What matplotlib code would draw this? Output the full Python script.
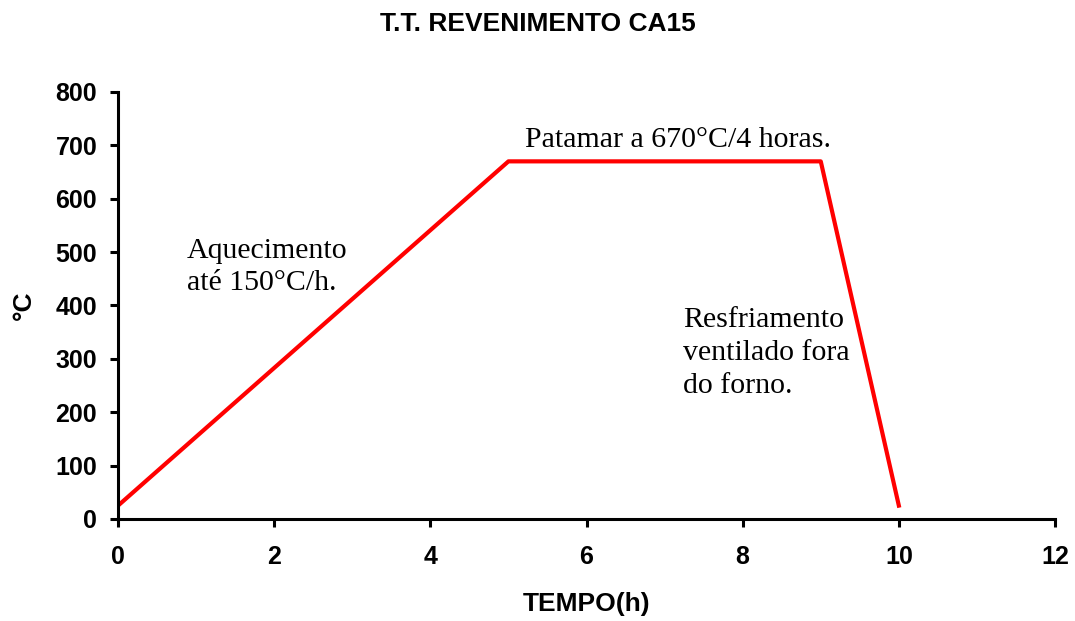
import matplotlib
matplotlib.use('Agg')
import matplotlib.pyplot as plt

# tempering profile: time (h) vs temperature (°C)
tempo = [0, 5, 9, 10]
temperatura = [25, 670, 670, 25]

x_ticks = [0, 2, 4, 6, 8, 10, 12]
y_ticks = [0, 100, 200, 300, 400, 500, 600, 700, 800]


def plot_revenimento():
    plt.rcParams['font.family'] = ['Liberation Sans', 'DejaVu Sans']

    fig = plt.figure(figsize=(10.75, 6.21), dpi=100)
    ax = fig.add_axes([0.1098, 0.1643, 0.8716, 0.6876])

    ax.plot(tempo, temperatura, color='#ff0000', linewidth=3)

    ax.set_xlim(0, 12)
    ax.set_ylim(0, 800)
    ax.set_xticks(x_ticks)
    ax.set_yticks(y_ticks)

    for side in ['top', 'right']:
        ax.spines[side].set_visible(False)
    for side in ['left', 'bottom']:
        ax.spines[side].set_linewidth(2.2)
    ax.tick_params(direction='out', length=6, width=2.2, labelsize=18)
    for lab in ax.get_xticklabels() + ax.get_yticklabels():
        lab.set_fontweight('bold')
    ax.tick_params(axis='x', pad=13)
    ax.tick_params(axis='y', pad=9)

    fig.text(0.50, 0.962, 'T.T. REVENIMENTO CA15', ha='center', va='center',
             fontsize=19, fontweight='bold')
    ax.set_xlabel('TEMPO(h)', fontsize=19, fontweight='bold', labelpad=16)
    ax.set_ylabel('°C', fontsize=19, fontweight='bold', labelpad=14)

    serif = ['Liberation Serif', 'DejaVu Serif']
    ax.text(5.21, 697, 'Patamar a 670°C/4 horas.', family=serif, fontsize=21.5,
            ha='left', va='baseline')
    ax.text(0.88, 429, 'Aquecimento\naté 150°C/h.', family=serif, fontsize=21.5,
            ha='left', va='baseline', linespacing=1.3)
    ax.text(7.24, 236, 'Resfriamento\nventilado fora\ndo forno.', family=serif,
            fontsize=21.5, ha='left', va='baseline', linespacing=1.35)

    fig.savefig('out.png', dpi=100)
    plt.close(fig)


if __name__ == "__main__":
    plot_revenimento()
